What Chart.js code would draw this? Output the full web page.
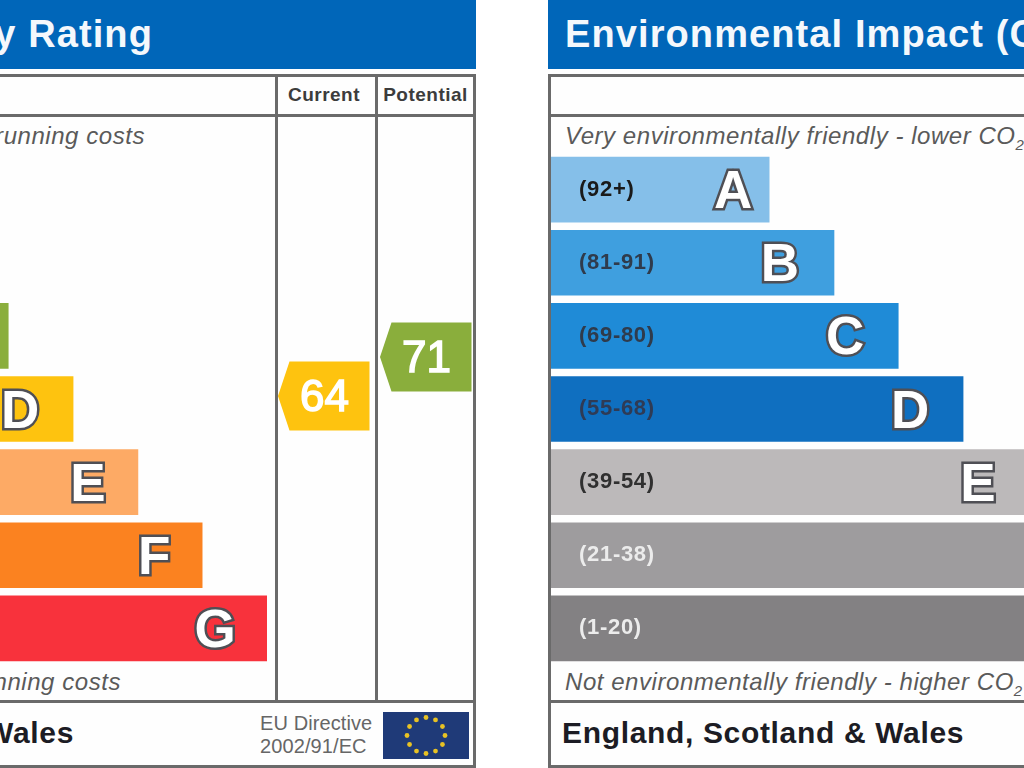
<!DOCTYPE html>
<html>
<head>
<meta charset="utf-8">
<script src="https://cdn.jsdelivr.net/npm/chart.js@4"></script>
<style>
  html, body { margin: 0; width: 1024px; height: 768px; overflow: hidden; background: #fff; }
  body { position: relative; font-family: "Liberation Sans", Arial, sans-serif; }
  .abs { position: absolute; white-space: nowrap; }
  .head { background: #0066b9; top: 0; height: 69px; }
  .title { color: #f4f8fc; font-weight: bold; font-size: 38px; line-height: 69px; letter-spacing: 1.1px; }
  .frame { border: 3px solid #6a6a6a; top: 74px; height: 688px; box-sizing: content-box; background: #fefefe; }
  .hline { background: #6a6a6a; height: 3px; }
  .vline { background: #6a6a6a; width: 3px; top: 75px; height: 627px; }
  .note { color: #5a5a5a; font-style: italic; font-size: 24px; line-height: 26px; letter-spacing: .55px; }
  .note sub { font-size: 15px; line-height: 0; }
  .foot { color: #1c1c24; font-weight: bold; font-size: 30px; line-height: 34px; letter-spacing: .66px; }
  .col { color: #3c3c3c; font-weight: bold; font-size: 19px; line-height: 22px; text-align: center; letter-spacing: .5px; }
  .eu { color: #666; font-size: 20px; line-height: 23px; letter-spacing: .1px; }
  canvas { position: absolute; display: block; }
</style>
</head>
<body>

<!-- energy rating panel, cut off by the left edge of the window -->
<div class="abs head" style="left:-342px;width:818px"></div>
<div class="abs title" style="right:871px;top:0">Energy Efficiency Rating</div>
<div class="abs frame" style="left:-342px;width:812px"></div>
<div class="abs hline" style="left:-342px;width:818px;top:114px"></div>
<div class="abs hline" style="left:-342px;width:818px;top:700px"></div>
<div class="abs vline" style="left:275px"></div>
<div class="abs vline" style="left:375px"></div>
<div class="abs col" style="left:275px;width:98px;top:84px">Current</div>
<div class="abs col" style="left:378px;width:95px;top:84px">Potential</div>
<div class="abs note" style="right:879px;top:123px">Very energy efficient - lower running costs</div>
<div class="abs note" style="right:903px;top:669px">Not energy efficient - higher running costs</div>
<div class="abs foot" style="right:950px;top:716px">England, Scotland &amp; Wales</div>
<div class="abs eu" style="left:260px;top:712px">EU Directive<br>2002/91/EC</div>
<svg class="abs" id="flag" style="left:383px;top:712px" width="86" height="47"></svg>

<!-- environmental panel, runs past the right edge -->
<div class="abs head" style="left:548px;width:818px"></div>
<div class="abs title" style="left:565px;top:0">Environmental Impact (CO<sub>2</sub>) Rating</div>
<div class="abs frame" style="left:548px;width:812px"></div>
<div class="abs hline" style="left:548px;width:818px;top:114px"></div>
<div class="abs hline" style="left:548px;width:818px;top:700px"></div>
<div class="abs note" style="left:565px;top:123px">Very environmentally friendly - lower CO<sub>2</sub> emissions</div>
<div class="abs note" style="left:565px;top:669px">Not environmentally friendly - higher CO<sub>2</sub> emissions</div>
<div class="abs foot" style="left:562px;top:716px">England, Scotland &amp; Wales</div>

<canvas id="energy" width="606" height="512" style="left:-339px;top:153px"></canvas>
<canvas id="impact" width="606" height="512" style="left:551px;top:153px"></canvas>
<canvas id="scores" width="204" height="584" style="left:273px;top:116px"></canvas>

<script>
  var bands = ["A", "B", "C", "D", "E", "F", "G"];
  var ranges = ["(92+)", "(81-91)", "(69-80)", "(55-68)", "(39-54)", "(21-38)", "(1-20)"];
  var bandLengths = [36, 46.7, 57.3, 68, 78.7, 89.3, 100];

  var energyColors = ["#00894d", "#2aa84f", "#8aae3c", "#fec30f", "#fdaa65", "#fb8220", "#f8323c"];
  var impactColors = ["#85bfe9", "#3f9fdf", "#1f8bd7", "#0f6fc0", "#bcb9ba", "#9e9c9e", "#838183"];
  var rangeColors = ["#1a1a1a", "#2f3b4c", "#2f3b4c", "#2f3b55", "#303030", "#ececec", "#ececec"];

  var scoreColumns = ["Current", "Potential"];
  var scoreValues = [64, 71];
  var scoreColors = ["#fec30f", "#8aae3c"];

  // how far back from the bar end each letter sits
  var letterInset = [36, 54, 53, 53, 50, 48, 52];

  // range text and the big outlined letter on each bar
  var bandLabels = {
    id: 'bandLabels',
    afterDatasetsDraw: (chart) => {
      var ctx = chart.ctx;
      chart.getDatasetMeta(0).data.forEach((bar, i) => {
        ctx.save();
        ctx.textBaseline = 'middle';
        ctx.font = 'bold 22px "Liberation Sans"';
        ctx.letterSpacing = '.7px';
        ctx.fillStyle = rangeColors[i];
        ctx.fillText(ranges[i], 28, bar.y);

        ctx.letterSpacing = '0px';
        ctx.font = 'bold 53px "Liberation Sans"';
        ctx.textAlign = 'center';
        ctx.lineJoin = 'miter';
        ctx.lineWidth = 5;
        ctx.strokeStyle = '#4f4f55';
        ctx.fillStyle = '#fff';
        var cx = bar.x - letterInset[i];
        ctx.strokeText(bands[i], cx, bar.y + 4);
        ctx.fillText(bands[i], cx, bar.y + 4);
        ctx.restore();
      });
    }
  };

  // arrow shaped badge at each score
  var scoreBadges = {
    id: 'scoreBadges',
    afterDatasetsDraw: (chart) => {
      var ctx = chart.ctx;
      chart.getDatasetMeta(0).data.forEach((pt, i) => {
        ctx.save();
        ctx.fillStyle = scoreColors[i];
        ctx.beginPath();
        ctx.moveTo(pt.x - 46, pt.y);
        ctx.lineTo(pt.x - 34.5, pt.y - 34.5);
        ctx.lineTo(pt.x + 45.5, pt.y - 34.5);
        ctx.lineTo(pt.x + 45.5, pt.y + 34.5);
        ctx.lineTo(pt.x - 34.5, pt.y + 34.5);
        ctx.closePath();
        ctx.fill();
        ctx.fillStyle = '#fff';
        ctx.strokeStyle = '#fff';
        ctx.lineWidth = 1.5;
        ctx.font = '44px "Liberation Sans"';
        ctx.textAlign = 'center';
        ctx.textBaseline = 'middle';
        ctx.strokeText(scoreValues[i], pt.x + .5, pt.y + 3);
        ctx.fillText(scoreValues[i], pt.x + .5, pt.y + 3);
        ctx.restore();
      });
    }
  };

  function bandChart(id, colors) {
    return new Chart(document.getElementById(id), {
      type: 'bar',
      data: {
        labels: bands,
        datasets: [{ data: bandLengths, backgroundColor: colors, barThickness: 65, borderWidth: 0 }]
      },
      options: {
        indexAxis: 'y',
        responsive: false,
        animation: false,
        plugins: { legend: { display: false }, tooltip: { enabled: false } },
        scales: {
          x: { display: false, min: 0, max: 100 },
          y: { display: false }
        }
      },
      plugins: [bandLabels]
    });
  }

  bandChart('energy', energyColors);
  bandChart('impact', impactColors);

  new Chart(document.getElementById('scores'), {
    type: 'line',
    data: {
      labels: scoreColumns,
      datasets: [{ data: scoreValues, showLine: false, pointRadius: 0 }]
    },
    options: {
      responsive: false,
      animation: false,
      plugins: { legend: { display: false }, tooltip: { enabled: false } },
      scales: {
        x: { display: false, offset: true },
        y: { display: false, min: 9.4, max: 114.3 }
      }
    },
    plugins: [scoreBadges]
  });

  // eu flag stars
  var flag = '<rect width="86" height="47" fill="#1f3a78"/>';
  for (var i = 0; i < 12; i++) {
    var a = i * Math.PI / 6;
    flag += '<circle cx="' + (43 + 19 * Math.sin(a)) + '" cy="' + (23.5 - 18 * Math.cos(a)) + '" r="2.4" fill="#e8c224"/>';
  }
  document.getElementById('flag').innerHTML = flag;
</script>
</body>
</html>
